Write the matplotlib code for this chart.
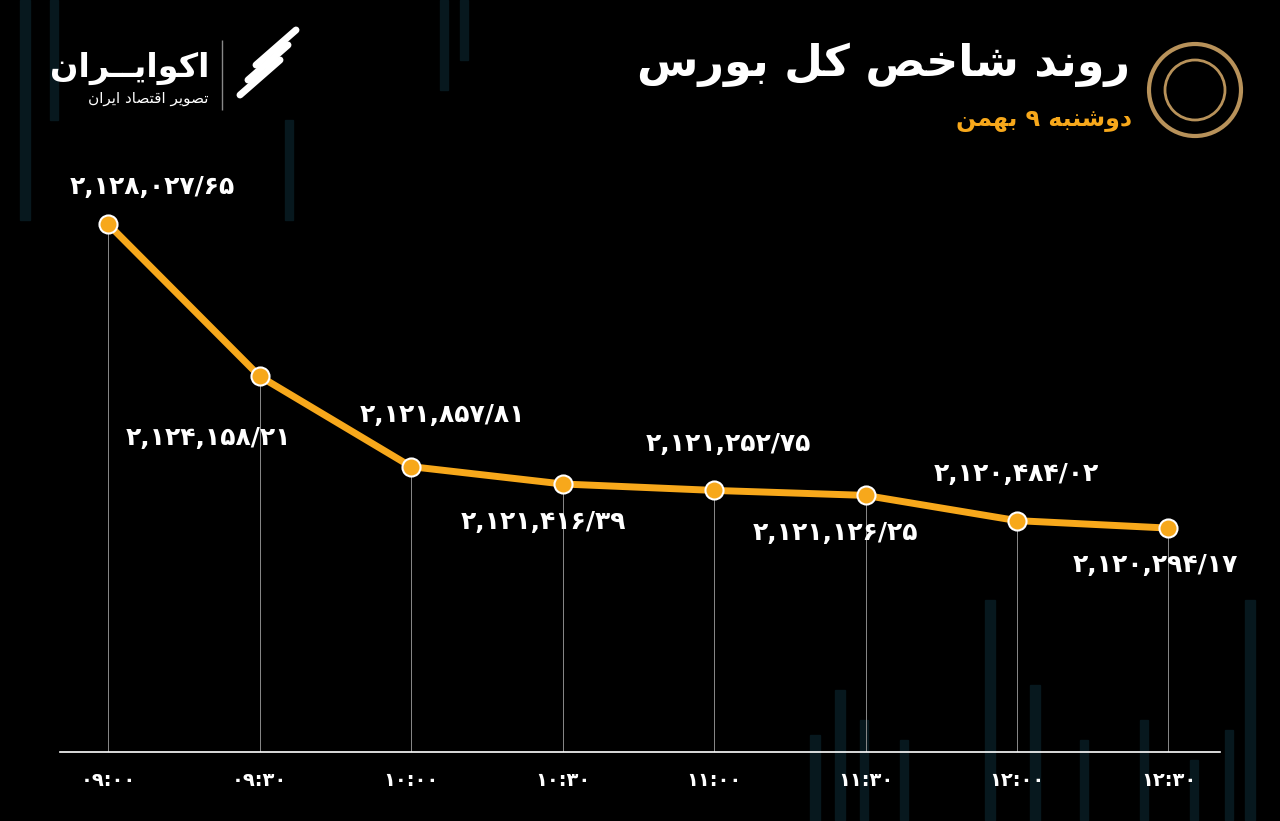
import matplotlib.pyplot as plt
from matplotlib.patches import Rectangle, Circle

times = ['۰۹:۰۰', '۰۹:۳۰', '۱۰:۰۰', '۱۰:۳۰', '۱۱:۰۰', '۱۱:۳۰', '۱۲:۰۰', '۱۲:۳۰']
values = [2128027.65, 2124158.21, 2121857.81, 2121416.39,
          2121252.75, 2121126.25, 2120484.02, 2120294.17]
labels = ['۲,۱۲۸,۰۲۷/۶۵', '۲,۱۲۴,۱۵۸/۲۱', '۲,۱۲۱,۸۵۷/۸۱', '۲,۱۲۱,۴۱۶/۳۹',
          '۲,۱۲۱,۲۵۲/۷۵', '۲,۱۲۱,۱۲۶/۲۵', '۲,۱۲۰,۴۸۴/۰۲', '۲,۱۲۰,۲۹۴/۱۷']
title = 'روند شاخص کل بورس'
subtitle = 'دوشنبه ۹ بهمن'
brand = 'اکوایــران'
brand_sub = 'تصویر اقتصاد ایران'

# minimal arabic shaping: isolated, final, initial, medial
FORMS = {
    'ا': (0xFE8D, 0xFE8E, None, None), 'د': (0xFEA9, 0xFEAA, None, None),
    'ذ': (0xFEAB, 0xFEAC, None, None), 'ر': (0xFEAD, 0xFEAE, None, None),
    'ز': (0xFEAF, 0xFEB0, None, None), 'و': (0xFEED, 0xFEEE, None, None),
    'ب': (0xFE8F, 0xFE90, 0xFE91, 0xFE92), 'ت': (0xFE95, 0xFE96, 0xFE97, 0xFE98),
    'ح': (0xFEA1, 0xFEA2, 0xFEA3, 0xFEA4), 'خ': (0xFEA5, 0xFEA6, 0xFEA7, 0xFEA8),
    'س': (0xFEB1, 0xFEB2, 0xFEB3, 0xFEB4), 'ش': (0xFEB5, 0xFEB6, 0xFEB7, 0xFEB8),
    'ص': (0xFEB9, 0xFEBA, 0xFEBB, 0xFEBC), 'ق': (0xFED5, 0xFED6, 0xFED7, 0xFED8),
    'ف': (0xFED1, 0xFED2, 0xFED3, 0xFED4), 'ک': (0xFB8E, 0xFB8F, 0xFB90, 0xFB91),
    'ل': (0xFEDD, 0xFEDE, 0xFEDF, 0xFEE0), 'م': (0xFEE1, 0xFEE2, 0xFEE3, 0xFEE4),
    'ن': (0xFEE5, 0xFEE6, 0xFEE7, 0xFEE8), 'ه': (0xFEE9, 0xFEEA, 0xFEEB, 0xFEEC),
    'ی': (0xFBFC, 0xFBFD, 0xFBFE, 0xFBFF), 'پ': (0xFB56, 0xFB57, 0xFB58, 0xFB59),
    'ـ': (0x640, 0x640, 0x640, 0x640),
}


def dual(c):
    return c in FORMS and FORMS[c][2] is not None


def shape(s):
    out = []
    for i, c in enumerate(s):
        if c not in FORMS:
            out.append(c)
            continue
        prev = s[i - 1] if i > 0 else ''
        nxt = s[i + 1] if i + 1 < len(s) else ''
        jp = dual(prev)
        jn = dual(c) and nxt in FORMS
        f = FORMS[c]
        if jp and jn:
            code = f[3]
        elif jp:
            code = f[1]
        elif jn:
            code = f[2]
        else:
            code = f[0]
        out.append(chr(code))
    # reverse for display, keeping digit runs in order
    words = ''.join(out).split(' ')
    res = []
    for w in reversed(words):
        res.append(w if w.isdigit() else w[::-1])
    return ' '.join(res)


plt.rcParams['font.family'] = ['DejaVu Sans']
bg = '#000000'
orange = '#f7a81b'

fig = plt.figure(figsize=(12.8, 8.21), dpi=100, facecolor=bg)

# faint background candles
deco = fig.add_axes([0, 0, 1, 1], facecolor=bg)
deco.set_xlim(0, 1280)
deco.set_ylim(821, 0)
deco.axis('off')
candles = [(20, 0, 10, 220), (50, 0, 8, 120), (440, 0, 8, 90), (460, 0, 8, 60),
           (285, 120, 8, 100), (810, 735, 10, 90), (835, 690, 10, 130),
           (860, 720, 8, 100), (900, 740, 8, 80), (985, 600, 10, 220),
           (1030, 685, 10, 140), (1080, 740, 8, 80), (1140, 720, 8, 100),
           (1190, 760, 8, 60), (1225, 730, 8, 90), (1245, 600, 10, 220)]
for x, y, w, h in candles:
    deco.add_patch(Rectangle((x, y), w, h, color='#07181e', zorder=0))

ax = fig.add_axes([60 / 1280, (821 - 752) / 821, 1160 / 1280, (752 - 150) / 821])
ax.set_facecolor('none')
x = list(range(len(values)))
ax.set_xlim(-0.317, 7.34)
ax.set_ylim(2114600, 2129910)

for xi, v in zip(x, values):
    ax.vlines(xi, 2114600, v, color='#8a8a8a', lw=0.7, zorder=1)
ax.plot(x, values, color=orange, lw=5, zorder=2,
        marker='o', markersize=13, markerfacecolor=orange,
        markeredgecolor='white', markeredgewidth=1.5)

offsets = [(44, 37), (-51, -62), (31, 52), (-19, -38), (14, 46), (-30, -38), (-1, 47), (-13, -37)]
for xi, v, lab, off in zip(x, values, labels, offsets):
    ax.annotate(lab, (xi, v), xytext=off, textcoords='offset pixels',
                ha='center', va='center', color='white', fontsize=18,
                fontweight='bold')

ax.set_xticks(x)
ax.set_xticklabels(times, color='white', fontsize=14, fontweight='bold')
ax.tick_params(axis='x', length=0, pad=14)
ax.set_yticks([])
for sp in ['top', 'right', 'left']:
    ax.spines[sp].set_visible(False)
ax.spines['bottom'].set_color('white')
ax.spines['bottom'].set_linewidth(1.2)

# header
fig.text(1130 / 1280, 1 - 65 / 821, shape(title), color='white', fontsize=32,
         fontweight='bold', ha='right', va='center')
fig.text(1132 / 1280, 1 - 120 / 821, shape(subtitle), color=orange, fontsize=17,
         fontweight='bold', ha='right', va='center')
deco.add_patch(Circle((1195, 90), 46, fill=False, ec='#b8925a', lw=3))
deco.add_patch(Circle((1195, 90), 30, fill=False, ec='#b8925a', lw=2))

fig.text(210 / 1280, 1 - 68 / 821, shape(brand), color='white', fontsize=24,
         fontweight='bold', ha='right', va='center')
fig.text(208 / 1280, 1 - 98 / 821, shape(brand_sub), color='white', fontsize=11,
         ha='right', va='center')
deco.vlines(222, 40, 110, color='#888888', lw=1)
for i in range(3):
    deco.plot([240 + i * 8, 300 - 20 + i * 8], [95 - i * 15, 50 - i * 15 + 10],
              color='white', lw=5, solid_capstyle='round')

fig.savefig('out.png', dpi=100, facecolor=bg)
